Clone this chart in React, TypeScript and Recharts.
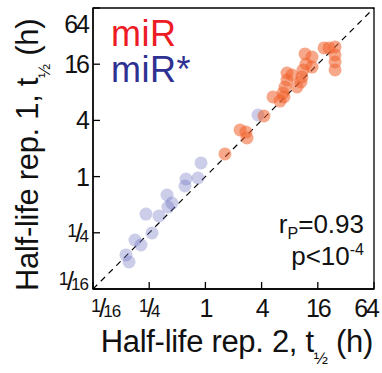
import React from "react";
import {
  ScatterChart,
  Scatter,
  XAxis,
  YAxis,
  ReferenceLine,
  ReferenceArea,
  Customized,
} from "recharts";

const tickValues = [0.0625, 0.25, 1, 4, 16, 64];

// miR* (azul), horas
const starRep2 = [0.141, 0.152, 0.176, 0.204, 0.268, 0.231, 0.318, 0.388, 0.397, 0.438, 0.62, 0.604, 0.833, 0.897, 3.66];
const starRep1 = [0.145, 0.122, 0.209, 0.185, 0.249, 0.397, 0.379, 0.635, 0.472, 0.521, 0.943, 0.793, 0.966, 1.4, 4.57];

// miR (naranja), horas
const mirRep2 = [1.62, 2.35, 2.72, 2.79, 4.24, 5.3, 6.3, 6.95, 7.12, 7.48, 7.48, 8.47, 9.58, 10.57, 10.8, 11.1, 11.96, 11.67, 13.87, 13.87, 18.65, 21.1, 24.5, 24.5, 24.5, 24.5, 6.78];
const mirRep1 = [1.75, 3.16, 3.0, 2.59, 4.46, 7.13, 6.45, 7.13, 9.12, 10.84, 12.88, 12.26, 9.12, 10.32, 11.7, 13.87, 16.08, 20.6, 19.1, 14.9, 23.9, 23.9, 24.5, 20.1, 16.9, 13.9, 7.86];

const starData = starRep2.map((x, i) => ({ x, y: starRep1[i] }));
const mirData = mirRep2.map((x, i) => ({ x, y: mirRep1[i] }));

const FONT = "'Liberation Sans', Arial, sans-serif";
const INK = "#111";

// fracción tipo 1/16 con numerador alto y denominador abajo
const Frac = ({ den }: { den: string }) => (
  <>
    <tspan fontSize={18} dy={-5}>1</tspan>
    <tspan fontSize={26} dy={5} dx={-1}>/</tspan>
    <tspan fontSize={17} dx={-2}>{den}</tspan>
  </>
);

const tickLabel = (v: number) =>
  v === 0.0625 ? <Frac den="16" /> : v === 0.25 ? <Frac den="4" /> : String(v);

const XTick = ({ x, y, payload }: any) => {
  const v = payload.value;
  const first = v === tickValues[0];
  const last = v === tickValues[tickValues.length - 1];
  const anchor = first ? "start" : last ? "end" : "middle";
  const dx = first ? -2 : last ? 4 : 0;
  return (
    <text x={x + dx} y={y + 17} textAnchor={anchor} fontSize={25} letterSpacing={v < 1 ? -1 : -2} fill={INK} fontFamily={FONT}>
      {tickLabel(v)}
    </text>
  );
};

const YTick = ({ x, y, payload }: any) => {
  const v = payload.value;
  const first = v === tickValues[0];
  const last = v === tickValues[tickValues.length - 1];
  const dy = first ? 1 : last ? 24 : 9;
  return (
    <text x={x + 1} y={y + dy} textAnchor="end" fontSize={25} letterSpacing={v < 1 ? -1 : -2} fill={INK} fontFamily={FONT}>
      {tickLabel(v)}
    </text>
  );
};

const Texts = () => (
  <g fontFamily={FONT}>
    <text x={111} y={46} fontSize={36} letterSpacing={0.5} fill="#ed1c24">miR</text>
    <text x={111} y={82} fontSize={36} letterSpacing={0.5} fill="#2e3192">miR*</text>
    <text x={364} y={233} textAnchor="end" fontSize={26} fill={INK}>
      r<tspan fontSize={16} dy={6}>P</tspan>
      <tspan dy={-6}>=0.93</tspan>
    </text>
    <text x={364} y={265} textAnchor="end" fontSize={26} fill={INK}>
      p&lt;10<tspan fontSize={16} dy={-10}>-4</tspan>
    </text>
    <text x={373} y={352} textAnchor="end" fontSize={31} letterSpacing={-0.3} fill={INK}>
      Half-life rep. 2, t<tspan fontSize={17} dy={12}>½</tspan>
      <tspan dy={-12}> (h)</tspan>
    </text>
    <text x={38} y={291} transform="rotate(-90 38 291)" fontSize={31} letterSpacing={-0.3} fill={INK}>
      Half-life rep. 1, t<tspan fontSize={17} dy={12}>½</tspan>
      <tspan dy={-12}> (h)</tspan>
    </text>
  </g>
);

const dot = (fill: string, opacity: number) => (props: any) =>
  <circle cx={props.cx} cy={props.cy} r={6.5} fill={fill} fillOpacity={opacity} />;

export default function App() {
  return (
    <div style={{ position: "absolute", left: 0, top: 0 }}>
      <ScatterChart width={382} height={373} margin={{ top: 8, right: 8, bottom: 0, left: 0 }}>
        <XAxis
          type="number"
          dataKey="x"
          scale="log"
          domain={[0.0625, 64]}
          ticks={tickValues}
          allowDataOverflow
          height={84}
          tickSize={-7}
          tickMargin={18}
          axisLine={{ stroke: "#000", strokeWidth: 1.3 }}
          tickLine={{ stroke: "#000", strokeWidth: 1.3 }}
          tick={<XTick />}
        />
        <YAxis
          type="number"
          dataKey="y"
          scale="log"
          domain={[0.0625, 64]}
          ticks={tickValues}
          allowDataOverflow
          width={93}
          tickSize={-7}
          tickMargin={13}
          axisLine={{ stroke: "#000", strokeWidth: 1.3 }}
          tickLine={{ stroke: "#000", strokeWidth: 1.3 }}
          tick={<YTick />}
        />
        <ReferenceArea x1={0.0625} x2={64} y1={0.0625} y2={64} fill="none" stroke="#000" strokeWidth={1.3} />
        <Scatter data={starData} shape={dot("#6b70c0", 0.35)} isAnimationActive={false} />
        <Scatter data={mirData} shape={dot("#f0602a", 0.55)} isAnimationActive={false} />
        <ReferenceLine
          segment={[{ x: 0.0625, y: 0.0625 }, { x: 64, y: 64 }]}
          stroke="#000"
          strokeWidth={1.2}
          strokeDasharray="6 5"
        />
        <Customized component={Texts} />
      </ScatterChart>
    </div>
  );
}
